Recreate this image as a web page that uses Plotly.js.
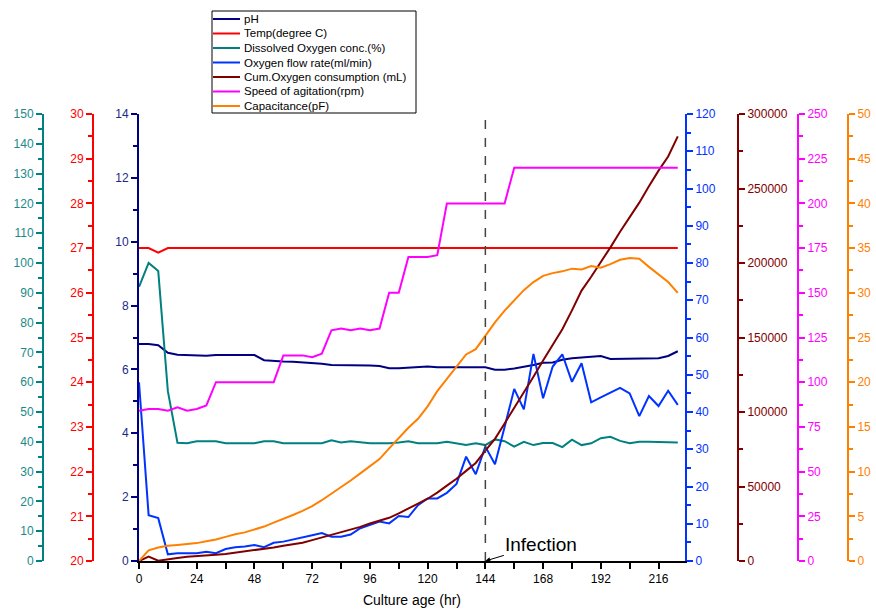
<!DOCTYPE html>
<html>
<head>
<meta charset="utf-8">
<script src="https://cdn.plot.ly/plotly-3.0.1.min.js"></script>
<style>html,body{margin:0;padding:0;background:#fff;}#chart{width:876px;height:610px;}</style>
</head>
<body>
<div id="chart"></div>
<script>
// ---- data ----
const hours = [0,4,8,12,16,20,24,28,32,36,40,44,48,52,56,60,64,68,72,76,80,84,88,92,96,100,104,108,112,116,120,124,128,132,136,140,144,148,152,156,160,164,168,172,176,180,184,188,192,196,200,204,208,212,216,220,224];

const pH = [6.80,6.80,6.76,6.52,6.46,6.45,6.45,6.43,6.45,6.45,6.43,6.45,6.45,6.29,6.26,6.25,6.24,6.22,6.22,6.18,6.14,6.14,6.14,6.14,6.12,6.11,6.04,6.04,6.06,6.07,6.09,6.07,6.07,6.07,6.07,6.07,6.07,5.99,5.99,6.03,6.08,6.14,6.21,6.22,6.30,6.35,6.37,6.40,6.42,6.33,6.33,6.33,6.33,6.34,6.35,6.42,6.57];

const temp = [27,27,26.9,27,27,27,27,27,27,27,27,27,27,27,27,27,27,27,27,27,27,27,27,27,27,27,27,27,27,27,27,27,27,27,27,27,27,27,27,27,27,27,27,27,27,27,27,27,27,27,27,27,27,27,27,27,27];

const dissolvedO2 = [92,100,97.3,57,39.7,39.5,40.2,40.2,40.2,39.5,39.5,39.5,39.5,40.2,40.2,39.5,39.5,39.5,39.5,39.5,40.5,39.8,40.2,39.8,39.5,39.5,39.5,39.8,40.2,39.5,39.5,39.5,40,39.5,38.9,39.5,38.9,40.8,40.2,38.4,40,38.9,39.6,39.6,38.2,40.7,38.9,39.5,41.2,41.7,40.3,39.5,40,40,40,40,39.8];

const o2Flow = [48,12.3,11.5,1.8,2.1,2.2,2.1,2.5,2.1,3.2,3.7,3.9,4.3,3.7,4.9,5.2,5.7,6.4,6.9,7.5,6.5,6.5,7.1,8.8,9.7,10.6,10.1,12.1,11.8,15,16.8,16.8,18.3,20.7,28,23.3,30.7,26,36,46.2,40.7,55.6,43.7,52.2,55.5,48.1,53.1,42.6,43.9,45.2,46.5,45,38.9,44.3,41.6,45.7,41.9];

const cumO2 = [0,2900,200,1300,2000,2800,3100,3400,4200,4700,5500,6300,7200,8100,9100,10300,11200,12200,14000,15800,17600,19200,20800,22900,25200,27200,29000,32000,35000,38500,41800,45900,50600,55200,60500,65800,74000,82000,92300,102600,113200,123700,134500,145000,155600,168200,181500,190800,200200,210500,221000,230800,240500,251500,262000,271500,285000];

const agitation = [84,85,85,84,86,84,85,87,100,100,100,100,100,100,100,115,115,115,114,116,129,130,129,130,129,130,150,150,170,170,170,171,200,200,200,200,200,200,200,220,220,220,220,220,220,220,220,220,220,220,220,220,220,220,220,220,220];

const capacitance = [0,1.2,1.5,1.7,1.8,1.9,2.0,2.2,2.4,2.7,3.0,3.2,3.5,3.85,4.3,4.7,5.15,5.6,6.15,6.8,7.5,8.25,9.0,9.8,10.6,11.4,12.6,13.8,14.9,15.9,17.3,19.0,20.4,21.7,23.1,23.7,25.2,26.7,28.0,29.2,30.3,31.2,31.9,32.2,32.4,32.7,32.6,33.0,32.8,33.2,33.7,33.9,33.8,32.9,32.1,31.2,30.0];

const seriesNames = ["pH","Temp(degree C)","Dissolved Oxygen conc.(%)","Oxygen flow rate(ml/min)","Cum.Oxygen consumption (mL)","Speed of agitation(rpm)","Capacitance(pF)"];
const infectionHour = 144;
const infectionLabel = "Infection";
const xTitle = "Culture age (hr)";

// ---- styling ----
const colors = ["#000080", "#ff0000", "#008080", "#0033ff", "#800000", "#ff00ff", "#ff8000"];
const W = 876, PLOT_TOP = 114, PLOT_BOTTOM = 561, PH = PLOT_BOTTOM - PLOT_TOP;
const xL = 139, xR = 685;
const font = "Arial, 'Liberation Sans', sans-serif";
const px2x = p => p / W;
const px2y = p => (PLOT_BOTTOM - p) / PH;

const seriesValues = [pH, temp, dissolvedO2, o2Flow, cumO2, agitation, capacitance];
const axisIds = ["y", "y2", "y3", "y4", "y5", "y6", "y7"];
const data = seriesValues.map((vals, i) => ({
  x: hours, y: vals, name: seriesNames[i], type: "scatter", mode: "lines",
  line: {color: colors[i], width: 2}, yaxis: axisIds[i], showlegend: false
}));

function yax(color, range, dtick, side, extra) {
  return Object.assign({
    range: range, dtick: dtick, tick0: range[0], side: side,
    showgrid: false, zeroline: false, showline: true, linecolor: color, linewidth: 2,
    ticks: "outside", ticklen: 6, tickwidth: 2, tickcolor: color,
    tickfont: {family: font, size: 12, color: color},
    minor: {dtick: dtick / 2, ticks: "outside", ticklen: 4, tickwidth: 2, tickcolor: color, showgrid: false},
    fixedrange: true, automargin: false
  }, extra);
}

// custom compact legend (box, line samples, labels)
const legendTop = 11, legendBottom = 113, legendLeft = 212, legendRight = 416;
const itemStep = 14.5, firstItem = 19;
const shapes = [{
  type: "rect", xref: "paper", yref: "paper",
  x0: px2x(legendLeft), x1: px2x(legendRight), y0: px2y(legendBottom), y1: px2y(legendTop),
  line: {color: "#000", width: 1}, fillcolor: "#fff", layer: "above"
}, {
  type: "line", xref: "x", yref: "y domain", x0: infectionHour, x1: infectionHour, y0: 0, y1: 1,
  line: {color: "#444", width: 1.5, dash: "dash"}
}];
const annotations = [];
seriesNames.forEach((name, i) => {
  const yy = px2y(firstItem + i * itemStep);
  shapes.push({type: "line", xref: "paper", yref: "paper", x0: px2x(213), x1: px2x(240), y0: yy, y1: yy,
               line: {color: colors[i], width: 2}, layer: "above"});
  annotations.push({xref: "paper", yref: "paper", x: px2x(242), y: yy, xanchor: "left", yanchor: "middle",
                    text: name, showarrow: false, font: {family: font, size: 11.5, color: "#000"}});
});
annotations.push({
  x: infectionHour, y: 0, xref: "x", yref: "y",
  text: infectionLabel, showarrow: true, arrowhead: 2, arrowsize: 1, arrowwidth: 1, arrowcolor: "#000",
  ax: 56, ay: -17, font: {family: font, size: 19, color: "#000"}
});

const layout = {
  width: 876, height: 610,
  margin: {l: 0, r: 0, t: PLOT_TOP, b: 610 - PLOT_BOTTOM},
  paper_bgcolor: "#fff", plot_bgcolor: "#fff",
  font: {family: font, size: 12, color: "#000"},
  showlegend: false,
  xaxis: {
    domain: [xL / W, xR / W], range: [0, 227], dtick: 24, tick0: 0,
    showgrid: false, zeroline: false, showline: true, linecolor: "#000", linewidth: 2,
    ticks: "outside", ticklen: 6, tickwidth: 2, tickcolor: "#000",
    tickfont: {family: font, size: 12, color: "#000"},
    minor: {dtick: 12, ticks: "outside", ticklen: 6, tickwidth: 2, tickcolor: "#000", showgrid: false},
    title: {text: xTitle, font: {family: font, size: 14, color: "#000"}, standoff: 10},
    fixedrange: true, automargin: false
  },
  yaxis: yax(colors[0], [0, 14], 2, "left", {anchor: "x", tickfont: {family: font, size: 12, color: "#1a2a8a"}}),
  yaxis2: yax(colors[1], [20, 30], 1, "left", {overlaying: "y", anchor: "free", position: 93 / W}),
  yaxis3: yax(colors[2], [0, 150], 10, "left", {overlaying: "y", anchor: "free", position: 43 / W, tickfont: {family: font, size: 12, color: "#1a8a8a"}}),
  yaxis4: yax(colors[3], [0, 120], 10, "right", {overlaying: "y", anchor: "x"}),
  yaxis5: yax(colors[4], [0, 300000], 50000, "right", {overlaying: "y", anchor: "free", position: 738 / W, tickformat: "d"}),
  yaxis6: yax(colors[5], [0, 250], 25, "right", {overlaying: "y", anchor: "free", position: 798 / W}),
  yaxis7: yax(colors[6], [0, 50], 5, "right", {overlaying: "y", anchor: "free", position: 848 / W}),
  shapes: shapes,
  annotations: annotations
};

Plotly.newPlot("chart", data, layout, {displayModeBar: false, staticPlot: true});
</script>
</body>
</html>
